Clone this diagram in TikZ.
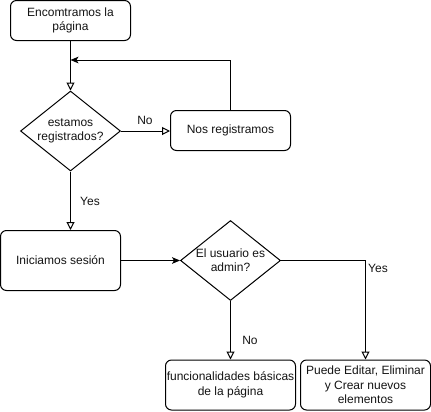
\documentclass[tikz,border=0pt]{standalone}
\usepackage{fontspec}
\setmainfont{Liberation Sans}
\usepackage{tikz}
\usepackage{xcolor}
\usetikzlibrary{
    shapes.geometric,
    arrows.meta,
    calc
  }
\definecolor{linecolor}{RGB}{0,0,0}
\definecolor{boxcolor}{RGB}{255,255,255}
\definecolor{textcolor}{RGB}{20,20,20}
\tikzset{
  stepbox/.style={
    draw=linecolor, fill=boxcolor, line width=0.75pt,
    rounded corners=4.5pt, align=center, inner sep=0pt, text=textcolor
  },
  decision/.style={
    draw=linecolor, fill=boxcolor, line width=0.75pt,
    diamond, inner sep=0pt, minimum width=75pt, minimum height=60pt
  },
  flow/.style={draw=linecolor, line width=0.75pt, -{Triangle[open,length=6pt,width=6pt]}},
  back/.style={draw=linecolor, line width=0.75pt, -{Stealth[length=6pt,width=5pt,inset=1.5pt]}}
}

\begin{document}
\begin{tikzpicture}[x=0.75pt, y=-0.75pt, font=\fontsize{9}{10.8}\selectfont]

\useasboundingbox (0,0) rectangle (431,411);

\path[] (70.5,20.5) node[stepbox, minimum width=90pt, minimum height=30pt] (start) {Encomtramos la\\página};
\path[] (70.5,131) node[decision, label={[align=center,text=textcolor]center:estamos\\registrados?}] (registered) {};
\path[] (230.5,130.5) node[stepbox, minimum width=90pt, minimum height=30pt] (signup) {Nos registramos};
\path[] (60.5,260.5) node[stepbox, minimum width=90pt, minimum height=45pt] (login) {Iniciamos sesión};
\path[] (230.5,260.5) node[decision, label={[align=center,text=textcolor]center:El usuario es\\admin?}] (admin) {};
\path[] (230.5,385) node[stepbox, minimum width=97.5pt, minimum height=37.5pt] (basic) {funcionalidades básicas\\de la página};
\path[] (365.5,385) node[stepbox, minimum width=97.5pt, minimum height=37.5pt] (manage) {Puede Editar, Eliminar\\y Crear nuevos\\elementos};

\path[] (70.5,60) coordinate (join);

\path[flow] (start) -- (registered);
\path[back] (signup.north) |- (join);
\path[flow] (registered.east) -- (registered.east -| signup.west);
\path[flow] (registered.south) -- (registered.south |- login.north);
\path[back] (login) -- (admin);
\path[flow] (admin) -- (basic);
\path[flow] (admin.east) -| (manage.north);

\path[text=textcolor]
  (145,120) node[] (reg_no) {No}
  (90,201) node[] (reg_yes) {Yes}
  (250,340) node[] (admin_no) {No}
  (378,268) node[] (admin_yes) {Yes}
;

\end{tikzpicture}
\end{document}
